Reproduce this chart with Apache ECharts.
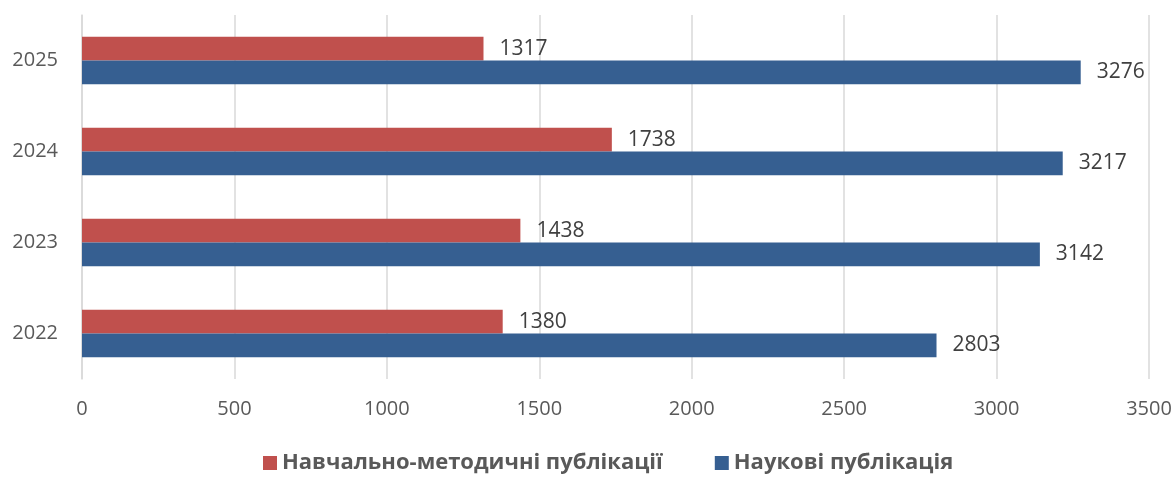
<!DOCTYPE html>
<html>
<head>
<meta charset="utf-8">
<script src="https://cdn.jsdelivr.net/npm/echarts@6/dist/echarts.min.js"></script>
<style>
  html, body { margin: 0; padding: 0; background: #fff; }
  #chart { width: 1176px; height: 477px; }
</style>
</head>
<body>
<div id="chart"></div>
<script>
const years = ['2022', '2023', '2024', '2025'];
const teaching = [1380, 1438, 1738, 1317];
const science = [2803, 3142, 3217, 3276];
const xTicks = {min: 0, max: 3500, interval: 500};

const font = '"Open Sans", "Noto Sans", sans-serif';
const chart = echarts.init(document.getElementById('chart'));
chart.setOption({
    animation: false,
    textStyle: {fontFamily: font},
    grid: {left: 82, right: 27, top: 15, bottom: 98},
    legend: {
        bottom: -2,
        left: 258,
        itemWidth: 14,
        itemHeight: 14,
        itemGap: 52,
        icon: 'rect',
        data: ['Навчально-методичні публікації', 'Наукові публікація'],
        textStyle: {fontFamily: font, fontSize: 22, fontWeight: 'bold', color: '#595959'}
    },
    xAxis: {
        type: 'value',
        min: xTicks.min,
        max: xTicks.max,
        interval: xTicks.interval,
        axisLine: {show: false},
        axisTick: {show: false},
        axisLabel: {fontSize: 20, color: '#595959', margin: 20, formatter: v => String(v)},
        splitLine: {lineStyle: {color: '#d9d9d9', width: 1.5}}
    },
    yAxis: {
        type: 'category',
        data: years,
        axisLine: {show: true, lineStyle: {color: '#d9d9d9', width: 1.5}},
        axisTick: {show: false},
        axisLabel: {fontSize: 20, color: '#595959', margin: 24}
    },
    series: [
        {
            name: 'Навчально-методичні публікації',
            type: 'bar',
            data: teaching,
            barGap: 0,
            barCategoryGap: '48%',
            itemStyle: {color: '#C0504D'},
            label: {show: true, position: 'right', distance: 16, fontSize: 21, color: '#404040'}
        },
        {
            name: 'Наукові публікація',
            type: 'bar',
            data: science,
            barGap: 0,
            barCategoryGap: '48%',
            itemStyle: {color: '#365F91'},
            label: {show: true, position: 'right', distance: 16, fontSize: 21, color: '#404040'}
        }
    ]
});
</script>
</body>
</html>
